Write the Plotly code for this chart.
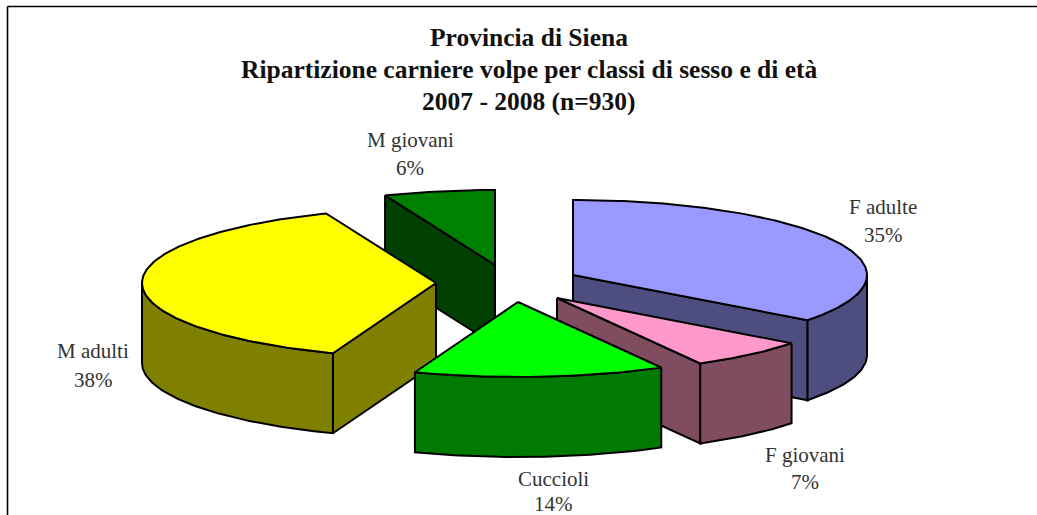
import numpy as np
import plotly.graph_objects as go

categories = ["F adulte", "F giovani", "Cuccioli", "M adulti", "M giovani"]
values = [35.3, 6.6, 13.8, 38.2, 6.1]
title_lines = ["Provincia di Siena",
               "Ripartizione carniere volpe per classi di sesso e di età",
               "2007 - 2008 (n=930)"]

top_colors = ["#9999FF", "#FF99CC", "#00FF00", "#FFFF00", "#008000"]
wall_colors = ["#4D4D80", "#804D60", "#007A00", "#808000", "#004000"]
centres = {"F adulte": (573, 275), "F giovani": (557, 298), "Cuccioli": (518, 302),
           "M adulti": (436, 283), "M giovani": (495, 265)}
label_pos = {"F adulte": (883, 207, 235), "F giovani": (805, 455, 482), "Cuccioli": (553, 479, 504),
             "M adulti": (93, 351, 380), "M giovani": (410, 140, 168)}
draw_order = ["M giovani", "M adulti", "F adulte", "F giovani", "Cuccioli"]
RX, RY, DEPTH = 294, 75, 80


def rim(cx, cy, a, b, dz=0):
    t = np.radians(np.linspace(a, b, max(2, int(abs(b - a)) + 2)))
    return cx + RX * np.sin(t), cy - RY * np.cos(t) + dz


def poly(fig, x, y, color, name):
    x = np.append(x, x[0])
    y = np.append(y, y[0])
    fig.add_trace(go.Scatter(x=x, y=y, mode="lines", fill="toself", fillcolor=color,
                             line=dict(color="black", width=2), name=name,
                             hoverinfo="name", showlegend=False))


fig = go.Figure()
edges = np.concatenate([[0], np.cumsum(values)]) / sum(values) * 360
spans = {c: (edges[i], edges[i + 1], i) for i, c in enumerate(categories)}

for c in draw_order:
    a, b, i = spans[c]
    cx, cy = centres[c]
    for ang, visible in ((a, np.sin(np.radians(a)) < -1e-9), (b, np.sin(np.radians(b)) > 1e-9)):
        if visible:
            ex, ey = rim(cx, cy, ang, ang)
            ex, ey = ex[0], ey[0]
            poly(fig, np.array([cx, ex, ex, cx]), np.array([cy, ey, ey + DEPTH, cy + DEPTH]),
                 wall_colors[i], c)
    lo, hi = max(a, 90), min(b, 270)
    if hi > lo:
        x1, y1 = rim(cx, cy, lo, hi)
        x2, y2 = rim(cx, cy, hi, lo, DEPTH)
        poly(fig, np.concatenate([x1, x2]), np.concatenate([y1, y2]), wall_colors[i], c)
    x, y = rim(cx, cy, a, b)
    poly(fig, np.concatenate([[cx], x]), np.concatenate([[cy], y]), top_colors[i], c)

annotations = []
for txt, yy in zip(title_lines, (37, 69, 101)):
    annotations.append(dict(x=529, y=yy, text=f"<b>{txt}</b>", showarrow=False, xanchor="center",
                            yanchor="middle", font=dict(family="Liberation Serif", size=25.5, color="#111111")))
for c, v in zip(categories, values):
    lx, y1, y2 = label_pos[c]
    for txt, yy in ((c, y1), (f"{round(v)}%", y2)):
        annotations.append(dict(x=lx, y=yy, text=txt, showarrow=False, xanchor="center", yanchor="middle",
                                font=dict(family="Liberation Serif", size=21, color="#333333")))

line = dict(color="black", width=1.6)
shapes = [dict(type="line", x0=7.5, x1=7.5, y0=6.5, y1=515, line=line),
          dict(type="line", x0=7.5, x1=1037, y0=6.5, y1=6.5, line=line)]

fig.update_layout(width=1037, height=515, margin=dict(l=0, r=0, t=0, b=0),
                  paper_bgcolor="white", plot_bgcolor="white", showlegend=False,
                  xaxis=dict(visible=False, range=[0, 1037], fixedrange=True),
                  yaxis=dict(visible=False, range=[515, 0], fixedrange=True),
                  annotations=annotations, shapes=shapes)
fig.write_html("out.html", post_script="document.body.style.margin='0';document.body.style.overflow='hidden';",
               config=dict(displayModeBar=False))
